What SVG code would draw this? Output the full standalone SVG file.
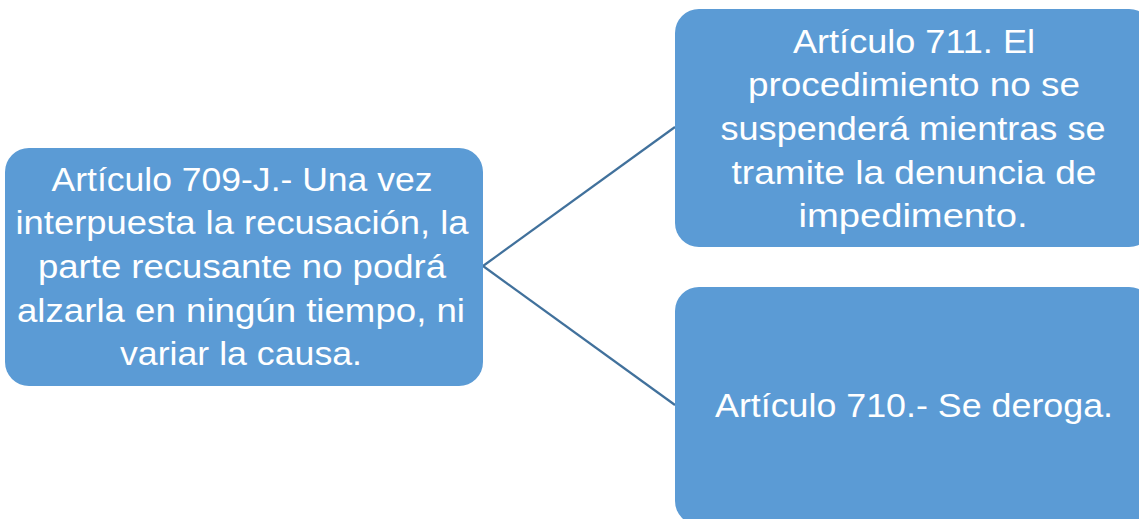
<svg xmlns="http://www.w3.org/2000/svg" width="1139" height="519" viewBox="0 0 1139 519">
<style>
.box{fill:#5B9BD5}
.t{font-family:"Liberation Sans","Noto Sans",sans-serif;font-size:33px;fill:#FFFFFF;text-anchor:middle}
.c{stroke:#41719C;stroke-width:2.2;fill:none}
</style>
<rect width="1139" height="519" fill="#FFFFFF"/>
<g id="connectors">
<line class="c" x1="483" y1="266" x2="675" y2="127"/>
<line class="c" x1="483" y1="266" x2="675" y2="405"/>
</g>
<g id="node-709">
<rect class="box" x="5" y="148" width="478" height="238" rx="24" ry="24"/>
<text class="t" x="242" y="191" textLength="381" lengthAdjust="spacingAndGlyphs">Artículo 709-J.- Una vez</text>
<text class="t" x="242" y="234" textLength="453" lengthAdjust="spacingAndGlyphs">interpuesta la recusación, la</text>
<text class="t" x="242" y="278" textLength="408" lengthAdjust="spacingAndGlyphs">parte recusante no podrá</text>
<text class="t" x="241" y="322" textLength="448" lengthAdjust="spacingAndGlyphs">alzarla en ningún tiempo, ni</text>
<text class="t" x="241" y="365" textLength="242" lengthAdjust="spacingAndGlyphs">variar la causa.</text>
</g>
<g id="node-711">
<rect class="box" x="675" y="9" width="478" height="238" rx="24" ry="24"/>
<text class="t" x="914" y="53" textLength="242" lengthAdjust="spacingAndGlyphs">Artículo 711. El</text>
<text class="t" x="914" y="96" textLength="332" lengthAdjust="spacingAndGlyphs">procedimiento no se</text>
<text class="t" x="913" y="140" textLength="385" lengthAdjust="spacingAndGlyphs">suspenderá mientras se</text>
<text class="t" x="914" y="184" textLength="365" lengthAdjust="spacingAndGlyphs">tramite la denuncia de</text>
<text class="t" x="913" y="227" textLength="229" lengthAdjust="spacingAndGlyphs">impedimento.</text>
</g>
<g id="node-710">
<rect class="box" x="675" y="287" width="478" height="238" rx="24" ry="24"/>
<text class="t" x="914" y="417" textLength="398" lengthAdjust="spacingAndGlyphs">Artículo 710.- Se deroga.</text>
</g>
</svg>
